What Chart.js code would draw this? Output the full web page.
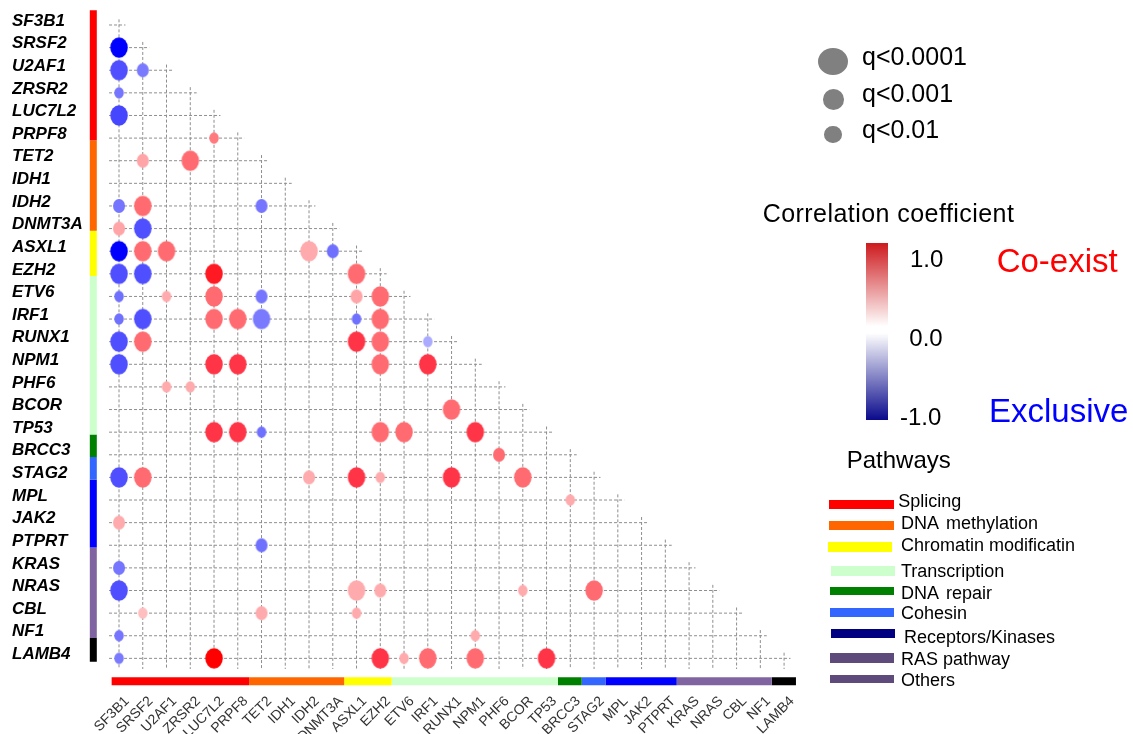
<!DOCTYPE html>
<html>
<head>
<meta charset="utf-8">
<script src="https://cdn.jsdelivr.net/npm/chart.js@4.4.1/dist/chart.umd.min.js"></script>
<style>
html,body{margin:0;padding:0;background:#fff;}
#wrap{position:relative;width:1133px;height:734px;overflow:hidden;font-family:"Liberation Sans",Arial,sans-serif;}
#c{position:absolute;left:0;top:0;}
.t{position:absolute;white-space:pre;line-height:1;color:#000;}
.sw{position:absolute;}
.dot{position:absolute;background:#808080;border-radius:50%;}
</style>
</head>
<body>
<div id="wrap"><canvas id="c" width="1133" height="734"></canvas></div>
<script>
// ---------------- data ----------------
const genes = ['SF3B1','SRSF2','U2AF1','ZRSR2','LUC7L2','PRPF8','TET2','IDH1','IDH2','DNMT3A',
  'ASXL1','EZH2','ETV6','IRF1','RUNX1','NPM1','PHF6','BCOR','TP53','BRCC3','STAG2','MPL','JAK2',
  'PTPRT','KRAS','NRAS','CBL','NF1','LAMB4'];
const pathwayNames = ['Splicing','DNA methylation','Chromatin modificatin','Transcription','DNA repair',
  'Cohesin','Receptors/Kinases','RAS pathway','Others'];
const pathwayGeneCounts = [6,4,2,7,1,1,3,4,1];
const pathwayBarColors = ['#ff0000','#ff6600','#ffff00','#ccffcc','#008000','#3366ff','#0000ff','#8064a2','#000000'];
const pathwayLegendColors = ['#ff0000','#ff6600','#ffff00','#ccffcc','#008000','#3366ff','#000080','#5f4b7b','#5f4b7b'];
const qLevels = ['q<0.0001','q<0.001','q<0.01'];
const corrTickLabels = ['1.0','0.0','-1.0'];

const pairRowGene = ['SRSF2','U2AF1','U2AF1','ZRSR2','LUC7L2','PRPF8','TET2','TET2','IDH2','IDH2','IDH2',
  'DNMT3A','DNMT3A','ASXL1','ASXL1','ASXL1','ASXL1','ASXL1','EZH2','EZH2','EZH2','EZH2',
  'ETV6','ETV6','ETV6','ETV6','ETV6','ETV6','IRF1','IRF1','IRF1','IRF1','IRF1','IRF1','IRF1',
  'RUNX1','RUNX1','RUNX1','RUNX1','RUNX1','NPM1','NPM1','NPM1','NPM1','NPM1','PHF6','PHF6','BCOR',
  'TP53','TP53','TP53','TP53','TP53','TP53','BRCC3','STAG2','STAG2','STAG2','STAG2','STAG2','STAG2','STAG2',
  'MPL','JAK2','PTPRT','KRAS','NRAS','NRAS','NRAS','NRAS','NRAS','CBL','CBL','CBL','NF1','NF1',
  'LAMB4','LAMB4','LAMB4','LAMB4','LAMB4','LAMB4','LAMB4'];
const pairColGene = ['SF3B1','SF3B1','SRSF2','SF3B1','SF3B1','LUC7L2','SRSF2','ZRSR2','SF3B1','SRSF2','TET2',
  'SF3B1','SRSF2','SF3B1','SRSF2','U2AF1','IDH2','DNMT3A','SF3B1','SRSF2','LUC7L2','ASXL1',
  'SF3B1','U2AF1','LUC7L2','TET2','ASXL1','EZH2','SF3B1','SRSF2','LUC7L2','PRPF8','TET2','ASXL1','EZH2',
  'SF3B1','SRSF2','ASXL1','EZH2','IRF1','SF3B1','LUC7L2','PRPF8','EZH2','IRF1','U2AF1','ZRSR2','RUNX1',
  'LUC7L2','PRPF8','TET2','EZH2','ETV6','NPM1','PHF6','SF3B1','SRSF2','IDH2','ASXL1','EZH2','RUNX1','BCOR',
  'BRCC3','SF3B1','TET2','SF3B1','SF3B1','ASXL1','EZH2','BCOR','STAG2','SRSF2','TET2','ASXL1','SF3B1','NPM1',
  'SF3B1','LUC7L2','EZH2','ETV6','IRF1','NPM1','TP53'];
const pairCorr = [-0.95,-0.69,-0.52,-0.54,-0.72,0.50,0.35,0.55,-0.54,0.55,-0.54,
  0.35,-0.69,-0.95,0.55,0.55,0.33,-0.56,-0.69,-0.69,0.90,0.55,
  -0.56,0.33,0.55,-0.54,0.35,0.55,-0.56,-0.69,0.55,0.55,-0.52,-0.56,0.55,
  -0.69,0.55,0.80,0.55,-0.33,-0.69,0.80,0.80,0.55,0.80,0.33,0.33,0.55,
  0.80,0.80,-0.56,0.55,0.55,0.80,0.55,-0.69,0.55,0.33,0.80,0.33,0.80,0.55,
  0.33,0.33,-0.56,-0.54,-0.69,0.33,0.33,0.33,0.55,0.25,0.33,0.33,-0.54,0.33,
  -0.52,1.00,0.80,0.33,0.55,0.55,0.80];
const pairQ = ['q<0.0001','q<0.0001','q<0.001','q<0.01','q<0.0001','q<0.01','q<0.001','q<0.0001','q<0.001','q<0.0001','q<0.001',
  'q<0.001','q<0.0001','q<0.0001','q<0.0001','q<0.0001','q<0.0001','q<0.001','q<0.0001','q<0.0001','q<0.0001','q<0.0001',
  'q<0.01','q<0.01','q<0.0001','q<0.001','q<0.001','q<0.0001','q<0.01','q<0.0001','q<0.0001','q<0.0001','q<0.0001','q<0.01','q<0.0001',
  'q<0.0001','q<0.0001','q<0.0001','q<0.0001','q<0.01','q<0.0001','q<0.0001','q<0.0001','q<0.0001','q<0.0001','q<0.01','q<0.01','q<0.0001',
  'q<0.0001','q<0.0001','q<0.01','q<0.0001','q<0.0001','q<0.0001','q<0.001','q<0.0001','q<0.0001','q<0.001','q<0.0001','q<0.01','q<0.0001','q<0.0001',
  'q<0.01','q<0.001','q<0.001','q<0.001','q<0.0001','q<0.0001','q<0.001','q<0.01','q<0.0001','q<0.01','q<0.001','q<0.01','q<0.01','q<0.01',
  'q<0.01','q<0.0001','q<0.0001','q<0.01','q<0.0001','q<0.0001','q<0.0001'];

// ---------------- styles ----------------
const FONT = '"Liberation Sans", Arial, sans-serif';
const qShape = {'q<0.0001':[17.5,20.5,9.5], 'q<0.001':[12,14,6.5], 'q<0.01':[9.5,11.5,5.2]};
const posStops = [[0,[255,255,255]],[0.33,[255,170,172]],[0.55,[255,107,112]],[0.8,[255,52,70]],[1,[255,0,0]]];
const negStops = [[0,[255,255,255]],[0.33,[170,170,255]],[0.54,[117,117,255]],[0.69,[79,79,255]],[0.95,[0,0,255]],[1,[0,0,255]]];
function corrColor(c){
  const s = c >= 0 ? posStops : negStops, a = Math.abs(c);
  for (let k = 1; k < s.length; k++) {
    if (a <= s[k][0]) {
      const t = (a - s[k-1][0]) / (s[k][0] - s[k-1][0]);
      const c0 = s[k-1][1], c1 = s[k][1];
      return 'rgb(' + c0.map((v,i) => Math.round(v + (c1[i]-v)*t)).join(',') + ')';
    }
  }
  return 'rgb(' + s[s.length-1][1].join(',') + ')';
}
const imgCache = {};
function ellipseImg(color, w, h){
  const key = color + '|' + w + '|' + h;
  if (imgCache[key]) return imgCache[key];
  const cv = document.createElement('canvas');
  cv.width = Math.ceil(w) + 2; cv.height = Math.ceil(h) + 2;
  const g = cv.getContext('2d');
  g.fillStyle = color; g.beginPath();
  g.ellipse(cv.width/2, cv.height/2, w/2, h/2, 0, 0, Math.PI*2); g.fill();
  imgCache[key] = cv; return cv;
}

// ---------------- datasets ----------------
const datasets = [];
const bubbleData = pairRowGene.map((rg, k) => ({
  x: genes.indexOf(pairColGene[k]), y: genes.indexOf(rg), r: qShape[pairQ[k]][2],
  corr: pairCorr[k], q: pairQ[k]
}));
datasets.push({
  type: 'bubble', order: 0, data: bubbleData,
  pointStyle: (ctx) => { const d = ctx.raw; if (!d) return 'circle';
    const s = qShape[d.q]; return ellipseImg(corrColor(d.corr), s[0], s[1]); },
  backgroundColor: (ctx) => ctx.raw ? corrColor(ctx.raw.corr) : '#888',
  borderWidth: 0
});
const gridStyle = {type:'line', order:3, borderColor:'#8e8e8e', borderWidth:1, borderDash:[3,2], pointRadius:0, fill:false};
const last = genes.length - 1;
genes.forEach((g, i) => {
  datasets.push(Object.assign({}, gridStyle, {data:[{x:-0.42,y:i},{x:i+0.27,y:i}]}));
  datasets.push(Object.assign({}, gridStyle, {data:[{x:i,y:i-0.25},{x:i,y:last+0.47}]}));
});
let cum = 0;
pathwayGeneCounts.forEach((n, k) => {
  const yStart = k === 0 ? -0.72 : cum - 0.9;
  const xStart = k === 0 ? -0.31 : cum - 0.52;
  cum += n;
  const yEnd = k === pathwayGeneCounts.length-1 ? cum - 0.85 : cum - 0.9;
  const xEnd = k === pathwayGeneCounts.length-1 ? cum - 0.5 : cum - 0.52;
  datasets.push({type:'line', order:2, data:[{x:-1.082,y:yStart},{x:-1.082,y:yEnd}],
    borderColor:pathwayBarColors[k], borderWidth:7, borderCapStyle:'butt', pointRadius:0, fill:false});
  datasets.push({type:'line', order:2, data:[{x:xStart,y:last+1.01},{x:xEnd,y:last+1.01}],
    borderColor:pathwayBarColors[k], borderWidth:8, borderCapStyle:'butt', pointRadius:0, fill:false});
});

const geneTicks = (scale) => { scale.ticks = genes.map((g,i) => ({value:i})); };

new Chart(document.getElementById('c'), {
  type: 'bubble',
  data: { datasets },
  options: {
    responsive: false, animation: false, devicePixelRatio: 1,
    events: [],
    layout: { padding: {left:12, right:333, top:0, bottom:0}, autoPadding: false },
    plugins: { legend: {display:false}, tooltip: {enabled:false} },
    scales: {
      x: {
        type:'linear', min:-1.516, max:28.67,
        afterBuildTicks: geneTicks,
        afterFit: (s) => { s.height = 46; },
        grid: {display:false, drawTicks:false}, border: {display:false},
        ticks: { autoSkip:false, maxRotation:45, minRotation:45, padding:5, labelOffset:8,
          color:'#333', font:{family:FONT, size:14},
          callback: (v) => genes[v] }
      },
      y: {
        type:'linear', reverse:true, min:-0.654, max:29.31,
        afterBuildTicks: geneTicks,
        afterFit: (s) => { s.width = 71; },
        grid: {display:false, drawTicks:false}, border: {display:false},
        ticks: { autoSkip:false, crossAlign:'far', labelOffset:-4, padding:0,
          color:'#000', font:{family:FONT, size:17, weight:'bold', style:'italic'},
          callback: (v) => genes[v] }
      }
    }
  }
});

// ---------------- legends (HTML) ----------------
const wrap = document.getElementById('wrap');
function addText(txt, x, baseline, size, color, extra){
  const d = document.createElement('div'); d.className = 't'; d.textContent = txt;
  d.style.left = x + 'px'; d.style.top = (baseline - 0.8465*size) + 'px';
  d.style.fontSize = size + 'px'; d.style.color = color || '#000';
  if (extra) Object.assign(d.style, extra);
  wrap.appendChild(d);
}
function addBox(cls, x, y, w, h, bg){
  const d = document.createElement('div'); d.className = cls;
  Object.assign(d.style, {left:x+'px', top:y+'px', width:w+'px', height:h+'px'});
  if (bg) d.style.background = bg;
  wrap.appendChild(d);
}
// size legend
const qDotPos = [[833.3,61.3,30,27.3],[833.3,99.7,21,20.7],[833,134.3,17.3,16.7]];
const qTextBase = [65, 101.7, 138.3];
qLevels.forEach((q,k) => {
  const p = qDotPos[k];
  addBox('dot', p[0]-p[2]/2, p[1]-p[3]/2, p[2], p[3]);
  addText(q, 862, qTextBase[k], 25);
});
// colour bar
addText('Correlation coefficient', 762.7, 221.7, 25, '#000', {letterSpacing:'0.45px'});
addBox('sw', 866, 243, 22, 177, 'linear-gradient(to bottom, #cd1a1e 0%, #ffffff 47%, #ffffff 51%, #0a0a8c 100%)');
const cbTickX = [910, 909.3, 900], cbTickBase = [267.3, 346.7, 425];
corrTickLabels.forEach((t,k) => addText(t, cbTickX[k], cbTickBase[k], 24));
addText('Co-exist', 996.7, 271.7, 33, '#ff0000');
addText('Exclusive', 989, 421.7, 33, '#0000ff');
// pathways legend
addText('Pathways', 846.7, 468.3, 24);
const swPos = [[829.3,500,64.7,9.3],[829.3,521,64.7,9],[828,541.7,63.7,10],[831,566,64,10],[830,586.7,64,8.3],
  [830,607.7,64,9],[831,629,64,9],[830,653,64,9.7],[830,675,64,8.3]];
const txtPos = [[898.3,507.7],[901,529.3],[901,551],[901,577.7],[901,599],[901,619.3],[904,643.3],[901,665],[901,686.7]];
pathwayNames.forEach((nm,k) => {
  const s = swPos[k];
  addBox('sw', s[0], s[1], s[2], s[3], pathwayLegendColors[k]);
  addText(nm, txtPos[k][0], txtPos[k][1], 18, '#000', nm.indexOf('DNA') === 0 ? {wordSpacing:'3px'} : null);
});
</script>
</body>
</html>
